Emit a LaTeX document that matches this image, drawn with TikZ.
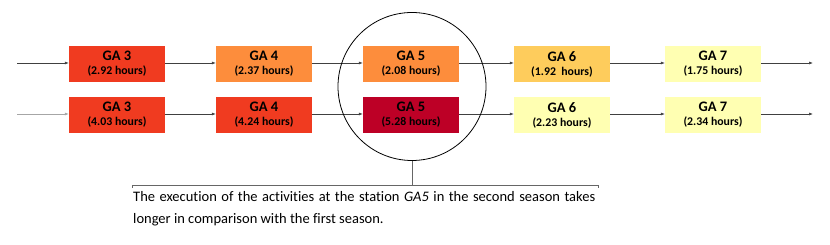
\documentclass[tikz,border=0pt]{standalone}
\usepackage{fontspec}
\setmainfont{Carlito}[Ligatures=NoCommon]
\usetikzlibrary{arrows.meta}
\definecolor{cA}{HTML}{F03B20}
\definecolor{cB}{HTML}{FD8D3C}
\definecolor{cC}{HTML}{FECC5C}
\definecolor{cD}{HTML}{FFFFB2}
\definecolor{cE}{HTML}{BD0026}
\definecolor{lnc}{HTML}{404040}
\tikzset{
  gabox/.style={minimum width=96pt, minimum height=36pt, inner sep=0pt, align=center, font=\bfseries\fontsize{11}{14}\selectfont},
  flow/.style={draw=lnc, line width=0.6pt, -{Latex[length=4pt,width=3pt]}},
}
\newcommand{\galab}[2]{{\fontsize{14.5}{15}\selectfont GA #1}\\[0pt]{\fontsize{11.8}{12}\selectfont (#2 hours)}}
\begin{document}
\begin{tikzpicture}[x=1pt,y=-1pt]
\useasboundingbox (0,0) rectangle (830,245);
% row 1
\node[gabox, fill=cA] (a3) at (117,64) {\galab{3}{2.92}};
\node[gabox, fill=cB] (a4) at (264,64) {\galab{4}{2.37}};
\node[gabox, fill=cB] (a5) at (411,64) {\galab{5}{2.08}};
\node[gabox, fill=cC] (a6) at (562,64) {\galab{6}{1.92\ }};
\node[gabox, fill=cD] (a7) at (713,64) {\galab{7}{1.75}};
% row 2
\node[gabox, fill=cA] (b3) at (117,115) {\galab{3}{4.03}};
\node[gabox, fill=cA] (b4) at (264,115) {\galab{4}{4.24}};
\node[gabox, fill=cE] (b5) at (411,115) {\galab{5}{5.28}};
\node[gabox, fill=cD] (b6) at (562,115) {\galab{6}{2.23}};
\node[gabox, fill=cD] (b7) at (713,115) {\galab{7}{2.34}};
\coordinate (ain) at (17,63);
\coordinate (aout) at (813,63);
\coordinate (bin) at (17,114);
\coordinate (bout) at (813,114);
\draw[flow] (ain) -- (a3.west |- ain);
\draw[flow] (a3.east |- ain) -- (a4.west |- ain);
\draw[flow] (a4.east |- ain) -- (a5.west |- ain);
\draw[flow] (a5.east |- ain) -- (a6.west |- ain);
\draw[flow] (a6.east |- ain) -- (a7.west |- ain);
\draw[flow] (a7.east |- ain) -- (aout);
\draw[flow, draw=gray!70] (bin) -- (b3.west |- bin);
\draw[flow] (b3.east |- bin) -- (b4.west |- bin);
\draw[flow] (b4.east |- bin) -- (b5.west |- bin);
\draw[flow] (b5.east |- bin) -- (b6.west |- bin);
\draw[flow] (b6.east |- bin) -- (b7.west |- bin);
\draw[flow] (b7.east |- bin) -- (bout);
% circle and callout
\node[draw=black, line width=0.8pt, circle, minimum size=148pt, inner sep=0pt] (ring) at (412,86.5) {};
\coordinate (bk) at (412,185);
\draw[gray!80!black, line width=0.6pt] (ring.south) -- (bk);
\coordinate (bl) at (132,188);
\coordinate (br) at (598,188);
\draw[gray!80!black, line width=0.6pt] (bl) -- (bl |- bk) -- (br |- bk) -- (br);
\node[anchor=north west, inner sep=0pt, text width=462pt, align=justify, font=\fontsize{14.5}{22}\selectfont] (txt) at (133,191) {The execution of the activities at the station \textit{GA5} in the second season takes\linebreak longer in comparison with the first season.};
\end{tikzpicture}
\end{document}
